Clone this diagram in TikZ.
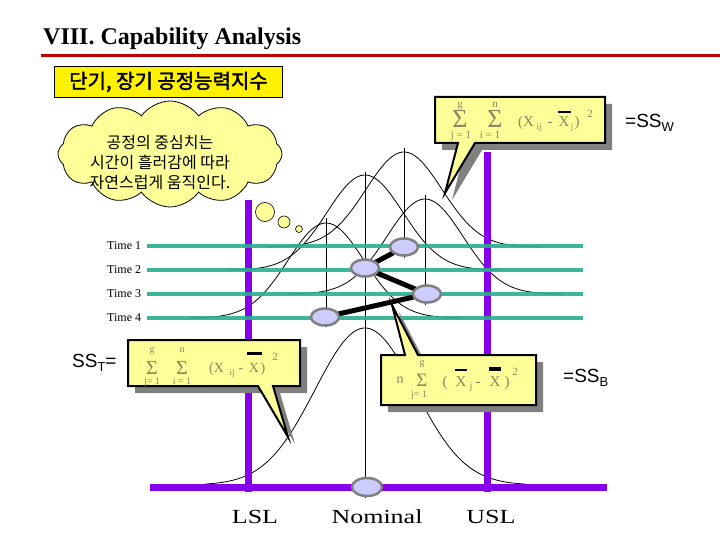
\documentclass[tikz,border=0pt]{standalone}
\usepackage{fontspec}
\setmainfont{Liberation Serif}
\setsansfont{Liberation Sans}
\newfontfamily\cjk{Noto Sans CJK KR}
\newfontfamily\cjkb[FakeBold=2]{Noto Sans CJK KR}
\usetikzlibrary{shapes.symbols,shapes.geometric}
\definecolor{purp}{RGB}{135,0,235}
\definecolor{teal2}{RGB}{40,175,145}
\definecolor{lav}{RGB}{204,204,255}
\definecolor{pale}{RGB}{255,255,153}
\definecolor{mathc}{RGB}{140,135,95}
\definecolor{titlered}{RGB}{192,0,0}
\definecolor{shade}{RGB}{128,128,128}
\newcommand\fs[1]{\fontsize{#1}{#1}\selectfont}
\begin{document}
\begin{tikzpicture}[x=1pt,y=-1pt,
  curve/.style={black, line width=0.8pt},
  vline/.style={black, line width=1pt},
  purpline/.style={purp, line width=7pt},
  tealline/.style={teal2, line width=4pt, opacity=0.9},
  conn/.style={black, line width=5pt},
  ell/.style={ellipse, fill=lav, draw=shade, line width=2.5pt, minimum width=28pt, minimum height=17pt, inner sep=0pt},
  callout/.style={fill=pale, draw=black, line width=2pt, line join=miter},
  shadowc/.style={fill=shade},
  mt/.style={text=mathc, inner sep=0pt, anchor=base},
  lbl/.style={inner sep=0pt}]
\useasboundingbox (0,0) rectangle (720,540);
\fill[white] (0,0) rectangle (720,540);

% title
\node[lbl, anchor=base west] (title) at (43,45) {\fs{24}\bfseries VIII. Capability Analysis};
\draw[titlered, line width=3pt] (41,56) -- (720,56);
\node[draw, fill=yellow, line width=1pt, inner sep=0pt, minimum width=228pt, minimum height=31pt, anchor=north west] (head) at (54,66) {\cjkb\fs{20}단기, 장기 공정능력지수};

% distribution curves
\foreach \c/\b in {404/247, 365/270, 425/294, 326/318} {
  \draw[curve] plot[domain=-3.6:3.6, samples=90, smooth] ({\c+38*\x},{\b-95*exp(-0.5*\x*\x)});
}
\draw[curve] plot[domain=-3.2:3.2, samples=90, smooth] ({365+50*\x},{485-157*exp(-0.5*\x*\x)});
% vertical centre lines
\draw[vline] (404,148) -- (404,258);
\draw[vline] (365,172) -- (365,498);
\draw[vline] (425,195) -- (425,305);
\draw[vline] (326,218) -- (326,327);

% spec limits
\draw[purpline] (248,200) -- (248,492);
\draw[purpline] (487,152) -- (487,492);
\draw[purpline] (150,487) -- (607,487);

% time lines
\foreach \y/\t in {246/1, 270/2, 294/3, 318/4} {
  \draw[tealline] (147,\y) -- (583,\y);
  \node[lbl, anchor=west] (time\t) at (107,\y) {\fs{12}Time \t};
}

% means
\coordinate (c1) at (404,247);
\coordinate (c2) at (365,268);
\coordinate (c3) at (427,294);
\coordinate (c4) at (325,317);
\draw[conn] (c1) -- (c2) -- (c3) -- (c4);
\node[ell] (E1) at (c1) {};
\node[ell] (E2) at (c2) {};
\node[ell] (E3) at (c3) {};
\node[ell] (E4) at (c4) {};
\node[ell, minimum width=30pt, minimum height=18pt] (EN) at (367,487) {};

% bottom labels
\node[lbl] (lsl) at (255,517) {\fs{20}\scalebox{1.3}[1]{LSL}};
\node[lbl] (nom) at (377,517) {\fs{20}\scalebox{1.3}[1]{Nominal}};
\node[lbl] (usl) at (491,517) {\fs{20}\scalebox{1.3}[1]{USL}};

% cloud
\node[cloud, cloud puffs=12, cloud puff arc=110, aspect=2.1, fill=pale, draw=black, line width=0.8pt, minimum width=224pt, minimum height=106pt] (cl) at (170,154) {};
\node[lbl, align=center, font=\cjk\fontsize{16}{20}\selectfont] (cltext) at (160,163) {공정의 중심치는\\시간이 흘러감에 따라\\자연스럽게 움직인다.};
\draw[fill=pale, line width=0.6pt] (265,212) circle (9.5);
\draw[fill=pale, line width=0.6pt] (284,222) circle (6);
\draw[fill=pale, line width=0.6pt] (299,229) circle (3.5);

% callout 1 (SSW)
\fill[shadowc, shift={(7,7)}] (435,97) -- (605,97) -- (605,143) -- (475,143) -- (445,193) -- (458,143) -- (435,143) -- cycle;
\draw[callout] (435,97) -- (605,97) -- (605,143) -- (475,143) -- (445,193) -- (458,143) -- (435,143) -- cycle;
\node[mt, font=\fs{11}] at (460,108) {g};
\node[mt, font=\fs{11}] at (495,108) {n};
\node[mt, font=\fs{26}] at (460,128) {Σ};
\node[mt, font=\fs{26}] at (495,128) {Σ};
\node[mt, font=\fs{11}] at (461,139) {j = 1};
\node[mt, font=\fs{11}] at (490,139) {i = 1};
\node[mt, font=\fs{15}, anchor=base west] at (518,127) {(X};
\node[mt, font=\fs{9}] at (539,130) {ij};
\node[mt, font=\fs{15}] at (550,127) {-};
\node[mt, font=\fs{15}] at (564,127) {X};
\node[mt, font=\fs{9}] at (572,130) {j};
\node[mt, font=\fs{15}] at (577,127) {)};
\node[mt, font=\fs{11}] at (590,118) {2};
\draw[line width=2pt] (558,112) -- (571,112);
\node[lbl, anchor=west] (ssw) at (625,123) {\sffamily\fs{19}=SS\raisebox{-4pt}{\fs{13}W}};

% callout 2 (SST)
\fill[shadowc, shift={(7,7)}] (128,340) -- (300,340) -- (300,386) -- (273,386) -- (288,437) -- (258,386) -- (128,386) -- cycle;
\draw[callout] (128,340) -- (300,340) -- (300,386) -- (273,386) -- (288,437) -- (258,386) -- (128,386) -- cycle;
\node[mt, font=\fs{10}] at (152,352) {g};
\node[mt, font=\fs{10}] at (182,352) {n};
\node[mt, font=\fs{20}] at (152,374) {Σ};
\node[mt, font=\fs{20}] at (182,374) {Σ};
\node[mt, font=\fs{10}] at (152,384) {j= 1};
\node[mt, font=\fs{10}] at (182,384) {i = 1};
\node[mt, font=\fs{14}, anchor=base west] at (209,372) {(X};
\node[mt, font=\fs{9}] at (232,375) {ij};
\node[mt, font=\fs{14}] at (241,372) {-};
\node[mt, font=\fs{14}] at (254,372) {X};
\node[mt, font=\fs{14}] at (263,372) {)};
\node[mt, font=\fs{11}] at (275,360) {2};
\draw[line width=3pt] (247,353) -- (262,353);
\node[lbl, anchor=west] (sst) at (72,363) {\sffamily\fs{19}SS\raisebox{-4pt}{\fs{13}T}=};

% callout 3 (SSB)
\fill[shadowc, shift={(7,7)}] (381,355) -- (405,355) -- (392,305) -- (418,355) -- (536,355) -- (536,405) -- (381,405) -- cycle;
\draw[callout] (381,355) -- (405,355) -- (392,305) -- (418,355) -- (536,355) -- (536,405) -- (381,405) -- cycle;
\node[mt, font=\fs{14}] at (400,383) {n};
\node[mt, font=\fs{10}] at (422,365) {g};
\node[mt, font=\fs{19}] at (422,386) {Σ};
\node[mt, font=\fs{10}] at (419,397) {j= 1};
\node[mt, font=\fs{15}] at (445,386) {(};
\node[mt, font=\fs{15}] at (461,386) {X};
\node[mt, font=\fs{10}] at (471,389) {j};
\node[mt, font=\fs{15}] at (478,386) {-};
\node[mt, font=\fs{15}] at (495,386) {X};
\node[mt, font=\fs{15}] at (507,386) {)};
\node[mt, font=\fs{11}] at (515,375) {2};
\draw[line width=2pt] (455,370) -- (467,370);
\draw[line width=4pt] (489,369) -- (501,369);
\node[lbl, anchor=west] (ssb) at (563,378) {\sffamily\fs{19}=SS\raisebox{-4pt}{\fs{13}B}};
\end{tikzpicture}
\end{document}
